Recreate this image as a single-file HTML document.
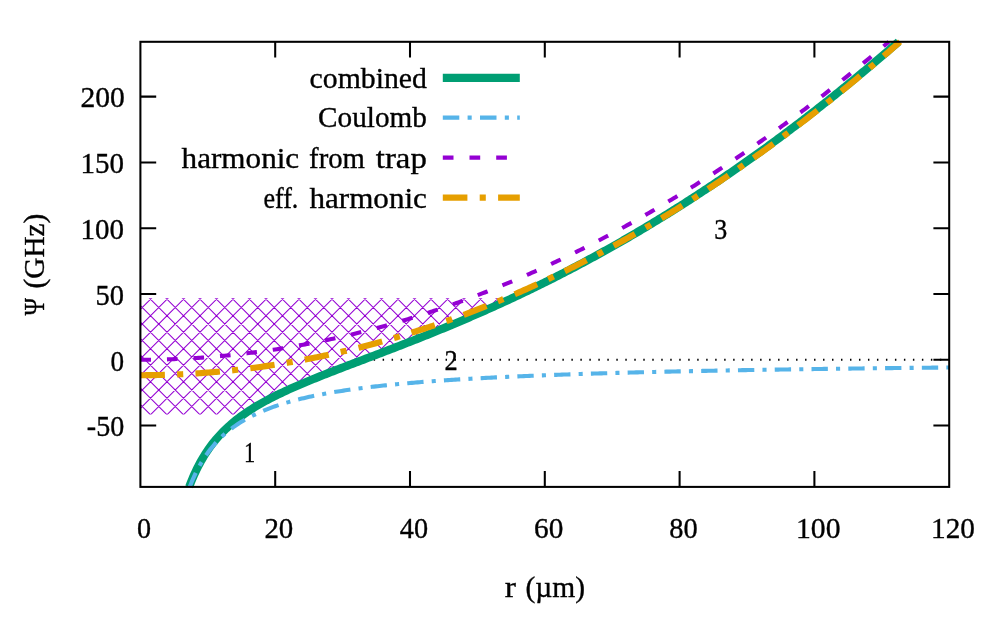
<!DOCTYPE html><html><head><meta charset="utf-8"><title>plot</title><style>html,body{margin:0;padding:0;background:#fff}svg{display:block}text{font-family:"Liberation Serif",serif;fill:#000}</style></head><body>
<svg width="997" height="617" viewBox="0 0 997 617">
<rect width="997" height="617" fill="#fff"/>
<defs><clipPath id="plot"><rect x="140.40" y="41.80" width="810.80" height="447.10" transform="translate(-1,-1)"/></clipPath><clipPath id="hc"><polygon points="140.40,298.31 511.85,298.31 511.85,298.31 509.16,299.56 506.48,300.81 503.80,302.04 501.11,303.27 498.43,304.50 495.75,305.72 493.07,306.93 490.38,308.14 487.70,309.34 485.02,310.53 482.33,311.72 479.65,312.90 476.97,314.08 474.29,315.25 471.60,316.41 468.92,317.57 466.24,318.73 463.55,319.87 460.87,321.02 458.19,322.15 455.51,323.28 452.82,324.41 450.14,325.53 447.46,326.65 444.77,327.76 442.09,328.87 439.41,329.97 436.73,331.06 434.04,332.16 431.36,333.24 428.68,334.32 425.99,335.40 423.31,336.48 420.63,337.55 417.95,338.61 415.26,339.67 412.58,340.73 409.90,341.79 407.21,342.84 404.53,343.88 401.85,344.93 399.17,345.97 396.48,347.01 393.80,348.04 391.12,349.07 388.43,350.10 385.75,351.13 383.07,352.16 380.39,353.18 377.70,354.20 375.02,355.22 372.34,356.24 369.65,357.26 366.97,358.28 364.29,359.30 361.61,360.32 358.92,361.33 356.24,362.35 353.56,363.37 350.87,364.39 348.19,365.41 345.51,366.43 342.83,367.46 340.14,368.49 337.46,369.52 334.78,370.56 332.09,371.59 329.41,372.64 326.73,373.69 324.05,374.74 321.36,375.80 318.68,376.87 316.00,377.95 313.32,379.03 310.63,380.13 307.95,381.23 305.27,382.35 302.58,383.47 299.90,384.61 297.22,385.77 294.54,386.94 291.85,388.12 289.17,389.33 286.49,390.55 283.80,391.79 281.12,393.06 278.44,394.35 275.76,395.67 273.07,397.01 270.39,398.39 267.71,399.79 265.02,401.24 262.34,402.72 259.66,404.24 256.98,405.81 254.29,407.43 251.61,409.10 248.93,410.83 246.24,412.62 243.56,414.48 140.40,414.48"/></clipPath></defs>
<path d="M140.40,96.63 h15.80 M949.20,96.63 h-15.80 M140.40,162.41 h15.80 M949.20,162.41 h-15.80 M140.40,228.19 h15.80 M949.20,228.19 h-15.80 M140.40,293.97 h15.80 M949.20,293.97 h-15.80 M140.40,359.75 h15.80 M949.20,359.75 h-15.80 M140.40,425.53 h15.80 M949.20,425.53 h-15.80 M275.20,486.90 v-15.80 M275.20,41.80 v15.80 M410.00,486.90 v-15.80 M410.00,41.80 v15.80 M544.80,486.90 v-15.80 M544.80,41.80 v15.80 M679.60,486.90 v-15.80 M679.60,41.80 v15.80 M814.40,486.90 v-15.80 M814.40,41.80 v15.80" stroke="#000" stroke-width="2.05" fill="none"/>
<polygon points="140.40,298.31 511.85,298.31 511.85,298.31 509.16,299.56 506.48,300.81 503.80,302.04 501.11,303.27 498.43,304.50 495.75,305.72 493.07,306.93 490.38,308.14 487.70,309.34 485.02,310.53 482.33,311.72 479.65,312.90 476.97,314.08 474.29,315.25 471.60,316.41 468.92,317.57 466.24,318.73 463.55,319.87 460.87,321.02 458.19,322.15 455.51,323.28 452.82,324.41 450.14,325.53 447.46,326.65 444.77,327.76 442.09,328.87 439.41,329.97 436.73,331.06 434.04,332.16 431.36,333.24 428.68,334.32 425.99,335.40 423.31,336.48 420.63,337.55 417.95,338.61 415.26,339.67 412.58,340.73 409.90,341.79 407.21,342.84 404.53,343.88 401.85,344.93 399.17,345.97 396.48,347.01 393.80,348.04 391.12,349.07 388.43,350.10 385.75,351.13 383.07,352.16 380.39,353.18 377.70,354.20 375.02,355.22 372.34,356.24 369.65,357.26 366.97,358.28 364.29,359.30 361.61,360.32 358.92,361.33 356.24,362.35 353.56,363.37 350.87,364.39 348.19,365.41 345.51,366.43 342.83,367.46 340.14,368.49 337.46,369.52 334.78,370.56 332.09,371.59 329.41,372.64 326.73,373.69 324.05,374.74 321.36,375.80 318.68,376.87 316.00,377.95 313.32,379.03 310.63,380.13 307.95,381.23 305.27,382.35 302.58,383.47 299.90,384.61 297.22,385.77 294.54,386.94 291.85,388.12 289.17,389.33 286.49,390.55 283.80,391.79 281.12,393.06 278.44,394.35 275.76,395.67 273.07,397.01 270.39,398.39 267.71,399.79 265.02,401.24 262.34,402.72 259.66,404.24 256.98,405.81 254.29,407.43 251.61,409.10 248.93,410.83 246.24,412.62 243.56,414.48 140.40,414.48" fill="#fff"/>
<g clip-path="url(#hc)"><path d="M-990.25,0 L-373.25,617 M-985.75,0 L-1602.75,617 M-973.75,0 L-356.75,617 M-969.25,0 L-1586.25,617 M-957.25,0 L-340.25,617 M-952.75,0 L-1569.75,617 M-940.75,0 L-323.75,617 M-936.25,0 L-1553.25,617 M-924.25,0 L-307.25,617 M-919.75,0 L-1536.75,617 M-907.75,0 L-290.75,617 M-903.25,0 L-1520.25,617 M-891.25,0 L-274.25,617 M-886.75,0 L-1503.75,617 M-874.75,0 L-257.75,617 M-870.25,0 L-1487.25,617 M-858.25,0 L-241.25,617 M-853.75,0 L-1470.75,617 M-841.75,0 L-224.75,617 M-837.25,0 L-1454.25,617 M-825.25,0 L-208.25,617 M-820.75,0 L-1437.75,617 M-808.75,0 L-191.75,617 M-804.25,0 L-1421.25,617 M-792.25,0 L-175.25,617 M-787.75,0 L-1404.75,617 M-775.75,0 L-158.75,617 M-771.25,0 L-1388.25,617 M-759.25,0 L-142.25,617 M-754.75,0 L-1371.75,617 M-742.75,0 L-125.75,617 M-738.25,0 L-1355.25,617 M-726.25,0 L-109.25,617 M-721.75,0 L-1338.75,617 M-709.75,0 L-92.75,617 M-705.25,0 L-1322.25,617 M-693.25,0 L-76.25,617 M-688.75,0 L-1305.75,617 M-676.75,0 L-59.75,617 M-672.25,0 L-1289.25,617 M-660.25,0 L-43.25,617 M-655.75,0 L-1272.75,617 M-643.75,0 L-26.75,617 M-639.25,0 L-1256.25,617 M-627.25,0 L-10.25,617 M-622.75,0 L-1239.75,617 M-610.75,0 L6.25,617 M-606.25,0 L-1223.25,617 M-594.25,0 L22.75,617 M-589.75,0 L-1206.75,617 M-577.75,0 L39.25,617 M-573.25,0 L-1190.25,617 M-561.25,0 L55.75,617 M-556.75,0 L-1173.75,617 M-544.75,0 L72.25,617 M-540.25,0 L-1157.25,617 M-528.25,0 L88.75,617 M-523.75,0 L-1140.75,617 M-511.75,0 L105.25,617 M-507.25,0 L-1124.25,617 M-495.25,0 L121.75,617 M-490.75,0 L-1107.75,617 M-478.75,0 L138.25,617 M-474.25,0 L-1091.25,617 M-462.25,0 L154.75,617 M-457.75,0 L-1074.75,617 M-445.75,0 L171.25,617 M-441.25,0 L-1058.25,617 M-429.25,0 L187.75,617 M-424.75,0 L-1041.75,617 M-412.75,0 L204.25,617 M-408.25,0 L-1025.25,617 M-396.25,0 L220.75,617 M-391.75,0 L-1008.75,617 M-379.75,0 L237.25,617 M-375.25,0 L-992.25,617 M-363.25,0 L253.75,617 M-358.75,0 L-975.75,617 M-346.75,0 L270.25,617 M-342.25,0 L-959.25,617 M-330.25,0 L286.75,617 M-325.75,0 L-942.75,617 M-313.75,0 L303.25,617 M-309.25,0 L-926.25,617 M-297.25,0 L319.75,617 M-292.75,0 L-909.75,617 M-280.75,0 L336.25,617 M-276.25,0 L-893.25,617 M-264.25,0 L352.75,617 M-259.75,0 L-876.75,617 M-247.75,0 L369.25,617 M-243.25,0 L-860.25,617 M-231.25,0 L385.75,617 M-226.75,0 L-843.75,617 M-214.75,0 L402.25,617 M-210.25,0 L-827.25,617 M-198.25,0 L418.75,617 M-193.75,0 L-810.75,617 M-181.75,0 L435.25,617 M-177.25,0 L-794.25,617 M-165.25,0 L451.75,617 M-160.75,0 L-777.75,617 M-148.75,0 L468.25,617 M-144.25,0 L-761.25,617 M-132.25,0 L484.75,617 M-127.75,0 L-744.75,617 M-115.75,0 L501.25,617 M-111.25,0 L-728.25,617 M-99.25,0 L517.75,617 M-94.75,0 L-711.75,617 M-82.75,0 L534.25,617 M-78.25,0 L-695.25,617 M-66.25,0 L550.75,617 M-61.75,0 L-678.75,617 M-49.75,0 L567.25,617 M-45.25,0 L-662.25,617 M-33.25,0 L583.75,617 M-28.75,0 L-645.75,617 M-16.75,0 L600.25,617 M-12.25,0 L-629.25,617 M-0.25,0 L616.75,617 M4.25,0 L-612.75,617 M16.25,0 L633.25,617 M20.75,0 L-596.25,617 M32.75,0 L649.75,617 M37.25,0 L-579.75,617 M49.25,0 L666.25,617 M53.75,0 L-563.25,617 M65.75,0 L682.75,617 M70.25,0 L-546.75,617 M82.25,0 L699.25,617 M86.75,0 L-530.25,617 M98.75,0 L715.75,617 M103.25,0 L-513.75,617 M115.25,0 L732.25,617 M119.75,0 L-497.25,617 M131.75,0 L748.75,617 M136.25,0 L-480.75,617 M148.25,0 L765.25,617 M152.75,0 L-464.25,617 M164.75,0 L781.75,617 M169.25,0 L-447.75,617 M181.25,0 L798.25,617 M185.75,0 L-431.25,617 M197.75,0 L814.75,617 M202.25,0 L-414.75,617 M214.25,0 L831.25,617 M218.75,0 L-398.25,617 M230.75,0 L847.75,617 M235.25,0 L-381.75,617 M247.25,0 L864.25,617 M251.75,0 L-365.25,617 M263.75,0 L880.75,617 M268.25,0 L-348.75,617 M280.25,0 L897.25,617 M284.75,0 L-332.25,617 M296.75,0 L913.75,617 M301.25,0 L-315.75,617 M313.25,0 L930.25,617 M317.75,0 L-299.25,617 M329.75,0 L946.75,617 M334.25,0 L-282.75,617 M346.25,0 L963.25,617 M350.75,0 L-266.25,617 M362.75,0 L979.75,617 M367.25,0 L-249.75,617 M379.25,0 L996.25,617 M383.75,0 L-233.25,617 M395.75,0 L1012.75,617 M400.25,0 L-216.75,617 M412.25,0 L1029.25,617 M416.75,0 L-200.25,617 M428.75,0 L1045.75,617 M433.25,0 L-183.75,617 M445.25,0 L1062.25,617 M449.75,0 L-167.25,617 M461.75,0 L1078.75,617 M466.25,0 L-150.75,617 M478.25,0 L1095.25,617 M482.75,0 L-134.25,617 M494.75,0 L1111.75,617 M499.25,0 L-117.75,617 M511.25,0 L1128.25,617 M515.75,0 L-101.25,617 M527.75,0 L1144.75,617 M532.25,0 L-84.75,617 M544.25,0 L1161.25,617 M548.75,0 L-68.25,617 M560.75,0 L1177.75,617 M565.25,0 L-51.75,617 M577.25,0 L1194.25,617 M581.75,0 L-35.25,617 M593.75,0 L1210.75,617 M598.25,0 L-18.75,617 M610.25,0 L1227.25,617 M614.75,0 L-2.25,617 M626.75,0 L1243.75,617 M631.25,0 L14.25,617 M643.25,0 L1260.25,617 M647.75,0 L30.75,617 M659.75,0 L1276.75,617 M664.25,0 L47.25,617 M676.25,0 L1293.25,617 M680.75,0 L63.75,617 M692.75,0 L1309.75,617 M697.25,0 L80.25,617 M709.25,0 L1326.25,617 M713.75,0 L96.75,617 M725.75,0 L1342.75,617 M730.25,0 L113.25,617 M742.25,0 L1359.25,617 M746.75,0 L129.75,617 M758.75,0 L1375.75,617 M763.25,0 L146.25,617 M775.25,0 L1392.25,617 M779.75,0 L162.75,617 M791.75,0 L1408.75,617 M796.25,0 L179.25,617 M808.25,0 L1425.25,617 M812.75,0 L195.75,617 M824.75,0 L1441.75,617 M829.25,0 L212.25,617 M841.25,0 L1458.25,617 M845.75,0 L228.75,617 M857.75,0 L1474.75,617 M862.25,0 L245.25,617 M874.25,0 L1491.25,617 M878.75,0 L261.75,617 M890.75,0 L1507.75,617 M895.25,0 L278.25,617 M907.25,0 L1524.25,617 M911.75,0 L294.75,617 M923.75,0 L1540.75,617 M928.25,0 L311.25,617 M940.25,0 L1557.25,617 M944.75,0 L327.75,617 M956.75,0 L1573.75,617 M961.25,0 L344.25,617 M973.25,0 L1590.25,617 M977.75,0 L360.75,617 M989.75,0 L1606.75,617 M994.25,0 L377.25,617 M1006.25,0 L1623.25,617 M1010.75,0 L393.75,617 M1022.75,0 L1639.75,617 M1027.25,0 L410.25,617 M1039.25,0 L1656.25,617 M1043.75,0 L426.75,617 M1055.75,0 L1672.75,617 M1060.25,0 L443.25,617 M1072.25,0 L1689.25,617 M1076.75,0 L459.75,617 M1088.75,0 L1705.75,617 M1093.25,0 L476.25,617 M1105.25,0 L1722.25,617 M1109.75,0 L492.75,617 M1121.75,0 L1738.75,617 M1126.25,0 L509.25,617 M1138.25,0 L1755.25,617 M1142.75,0 L525.75,617 M1154.75,0 L1771.75,617 M1159.25,0 L542.25,617 M1171.25,0 L1788.25,617 M1175.75,0 L558.75,617 M1187.75,0 L1804.75,617 M1192.25,0 L575.25,617 M1204.25,0 L1821.25,617 M1208.75,0 L591.75,617 M1220.75,0 L1837.75,617 M1225.25,0 L608.25,617 M1237.25,0 L1854.25,617 M1241.75,0 L624.75,617 M1253.75,0 L1870.75,617 M1258.25,0 L641.25,617 M1270.25,0 L1887.25,617 M1274.75,0 L657.75,617 M1286.75,0 L1903.75,617 M1291.25,0 L674.25,617 M1303.25,0 L1920.25,617 M1307.75,0 L690.75,617" stroke="#9400D3" stroke-width="1.05" fill="none"/></g>
<path d="M355.68,359.80 L949.20,359.80" stroke="#000" stroke-width="2.05" stroke-dasharray="1.45 7.5375" fill="none"/>
<g fill="none" stroke-linecap="butt" stroke-linejoin="round">
<path d="M189.19,486.90 L190.96,482.29 L192.73,477.99 L194.51,473.95 L196.28,470.17 L198.05,466.60 L199.83,463.24 L201.60,460.06 L203.37,457.05 L205.15,454.20 L206.92,451.48 L208.69,448.90 L210.47,446.44 L212.24,444.09 L214.01,441.84 L215.79,439.68 L217.56,437.62 L219.33,435.64 L221.11,433.73 L222.88,431.90 L224.65,430.13 L226.42,428.42 L228.20,426.78 L229.97,425.19 L231.74,423.64 L233.52,422.15 L235.29,420.70 L237.06,419.30 L238.84,417.94 L240.61,416.61 L242.38,415.32 L244.16,414.06 L245.93,412.83 L247.70,411.64 L249.48,410.47 L251.25,409.33 L253.02,408.21 L254.80,407.12 L256.57,406.05 L258.34,405.01 L260.12,403.98 L261.89,402.97 L263.66,401.98 L265.44,401.01 L267.21,400.06 L268.98,399.12 L270.76,398.20 L272.53,397.29 L274.30,396.39 L276.08,395.51 L277.85,394.64 L279.62,393.78 L281.40,392.93 L283.17,392.09 L284.94,391.26 L286.72,390.44 L288.49,389.63 L290.26,388.83 L292.04,388.04 L293.81,387.26 L295.58,386.48 L297.36,385.71 L299.13,384.94 L300.90,384.19 L302.68,383.43 L304.45,382.69 L306.22,381.95 L308.00,381.21 L309.77,380.48 L311.54,379.76 L313.32,379.03 L315.09,378.32 L316.86,377.60 L318.64,376.89 L320.41,376.18 L322.18,375.48 L323.96,374.78 L325.73,374.08 L327.50,373.39 L329.28,372.69 L331.05,372.00 L332.82,371.31 L334.59,370.63 L336.37,369.94 L338.14,369.26 L339.91,368.58 L341.69,367.90 L343.46,367.22 L345.23,366.54 L347.01,365.86 L348.78,365.19 L350.55,364.51 L352.33,363.84 L354.10,363.16 L355.87,362.49 L357.65,361.82 L359.42,361.14 L361.19,360.47 L362.97,359.80 L364.74,359.13 L366.51,358.45 L368.29,357.78 L370.06,357.11 L371.83,356.44 L373.61,355.76 L375.38,355.09 L377.15,354.41 L378.93,353.74 L380.70,353.06 L382.47,352.38 L384.25,351.71 L386.02,351.03 L387.79,350.35 L389.57,349.67 L391.34,348.99 L393.11,348.31 L394.89,347.62 L396.66,346.94 L398.43,346.25 L400.21,345.57 L401.98,344.88 L403.75,344.19 L405.53,343.50 L407.30,342.80 L409.07,342.11 L410.85,341.41 L412.62,340.72 L414.39,340.02 L416.17,339.32 L417.94,338.62 L419.71,337.91 L421.49,337.21 L423.26,336.50 L425.03,335.79 L426.81,335.08 L428.58,334.36 L430.35,333.65 L432.13,332.93 L433.90,332.21 L435.67,331.49 L437.45,330.77 L439.22,330.05 L440.99,329.32 L442.76,328.59 L444.54,327.86 L446.31,327.12 L448.08,326.39 L449.86,325.65 L451.63,324.91 L453.40,324.17 L455.18,323.42 L456.95,322.68 L458.72,321.93 L460.50,321.17 L462.27,320.42 L464.04,319.66 L465.82,318.91 L467.59,318.14 L469.36,317.38 L471.14,316.61 L472.91,315.85 L474.68,315.07 L476.46,314.30 L478.23,313.52 L480.00,312.75 L481.78,311.96 L483.55,311.18 L485.32,310.39 L487.10,309.60 L488.87,308.81 L490.64,308.02 L492.42,307.22 L494.19,306.42 L495.96,305.62 L497.74,304.81 L499.51,304.01 L501.28,303.20 L503.06,302.38 L504.83,301.57 L506.60,300.75 L508.38,299.93 L510.15,299.10 L511.92,298.28 L513.70,297.45 L515.47,296.61 L517.24,295.78 L519.02,294.94 L520.79,294.10 L522.56,293.25 L524.34,292.41 L526.11,291.56 L527.88,290.70 L529.66,289.85 L531.43,288.99 L533.20,288.13 L534.98,287.27 L536.75,286.40 L538.52,285.53 L540.30,284.65 L542.07,283.78 L543.84,282.90 L545.61,282.02 L547.39,281.13 L549.16,280.24 L550.93,279.35 L552.71,278.46 L554.48,277.56 L556.25,276.66 L558.03,275.76 L559.80,274.85 L561.57,273.95 L563.35,273.03 L565.12,272.12 L566.89,271.20 L568.67,270.28 L570.44,269.35 L572.21,268.43 L573.99,267.50 L575.76,266.56 L577.53,265.63 L579.31,264.69 L581.08,263.74 L582.85,262.80 L584.63,261.85 L586.40,260.90 L588.17,259.94 L589.95,258.98 L591.72,258.02 L593.49,257.06 L595.27,256.09 L597.04,255.12 L598.81,254.14 L600.59,253.17 L602.36,252.19 L604.13,251.20 L605.91,250.22 L607.68,249.23 L609.45,248.23 L611.23,247.24 L613.00,246.24 L614.77,245.23 L616.55,244.23 L618.32,243.22 L620.09,242.21 L621.87,241.19 L623.64,240.17 L625.41,239.15 L627.19,238.12 L628.96,237.10 L630.73,236.06 L632.51,235.03 L634.28,233.99 L636.05,232.95 L637.83,231.90 L639.60,230.86 L641.37,229.81 L643.15,228.75 L644.92,227.69 L646.69,226.63 L648.47,225.57 L650.24,224.50 L652.01,223.43 L653.78,222.36 L655.56,221.28 L657.33,220.20 L659.10,219.11 L660.88,218.03 L662.65,216.94 L664.42,215.84 L666.20,214.75 L667.97,213.65 L669.74,212.54 L671.52,211.44 L673.29,210.32 L675.06,209.21 L676.84,208.09 L678.61,206.97 L680.38,205.85 L682.16,204.72 L683.93,203.59 L685.70,202.46 L687.48,201.32 L689.25,200.18 L691.02,199.04 L692.80,197.89 L694.57,196.74 L696.34,195.59 L698.12,194.43 L699.89,193.27 L701.66,192.11 L703.44,190.94 L705.21,189.77 L706.98,188.60 L708.76,187.42 L710.53,186.24 L712.30,185.06 L714.08,183.87 L715.85,182.68 L717.62,181.49 L719.40,180.29 L721.17,179.09 L722.94,177.89 L724.72,176.68 L726.49,175.47 L728.26,174.25 L730.04,173.04 L731.81,171.82 L733.58,170.59 L735.36,169.36 L737.13,168.13 L738.90,166.90 L740.68,165.66 L742.45,164.42 L744.22,163.18 L746.00,161.93 L747.77,160.68 L749.54,159.42 L751.32,158.16 L753.09,156.90 L754.86,155.64 L756.63,154.37 L758.41,153.10 L760.18,151.82 L761.95,150.55 L763.73,149.26 L765.50,147.98 L767.27,146.69 L769.05,145.40 L770.82,144.10 L772.59,142.80 L774.37,141.50 L776.14,140.20 L777.91,138.89 L779.69,137.58 L781.46,136.26 L783.23,134.94 L785.01,133.62 L786.78,132.29 L788.55,130.96 L790.33,129.63 L792.10,128.29 L793.87,126.95 L795.65,125.61 L797.42,124.26 L799.19,122.91 L800.97,121.56 L802.74,120.20 L804.51,118.84 L806.29,117.48 L808.06,116.11 L809.83,114.74 L811.61,113.37 L813.38,111.99 L815.15,110.61 L816.93,109.22 L818.70,107.83 L820.47,106.44 L822.25,105.05 L824.02,103.65 L825.79,102.25 L827.57,100.84 L829.34,99.43 L831.11,98.02 L832.89,96.61 L834.66,95.19 L836.43,93.77 L838.21,92.34 L839.98,90.91 L841.75,89.48 L843.53,88.04 L845.30,86.60 L847.07,85.16 L848.85,83.71 L850.62,82.26 L852.39,80.81 L854.17,79.35 L855.94,77.89 L857.71,76.43 L859.49,74.96 L861.26,73.49 L863.03,72.01 L864.80,70.54 L866.58,69.06 L868.35,67.57 L870.12,66.08 L871.90,64.59 L873.67,63.10 L875.44,61.60 L877.22,60.10 L878.99,58.59 L880.76,57.08 L882.54,55.57 L884.31,54.05 L886.08,52.53 L887.86,51.01 L889.63,49.48 L891.40,47.95 L893.18,46.42 L894.95,44.88 L896.72,43.34 L898.50,41.80" stroke="#009E73" stroke-width="8.20"/>
<path d="M189.70,486.90 L191.60,482.18 L193.50,477.81 L195.40,473.73 L197.30,469.93 L199.20,466.37 L201.10,463.03 L203.00,459.90 L204.89,456.95 L206.79,454.17 L208.69,451.55 L210.59,449.06 L212.49,446.71 L214.39,444.48 L216.29,442.36 L218.19,440.34 L220.08,438.42 L221.98,436.59 L223.88,434.85 L225.78,433.18 L227.68,431.58 L229.58,430.05 L231.48,428.58 L233.38,427.18 L235.27,425.83 L237.17,424.53 L239.07,423.28 L240.97,422.09 L242.87,420.93 L244.77,419.82 L246.67,418.74 L248.57,417.71 L250.46,416.71 L252.36,415.74 L254.26,414.81 L256.16,413.91 L258.06,413.03 L259.96,412.19 L261.86,411.37 L263.76,410.57 L265.65,409.80 L267.55,409.05 L269.45,408.33 L271.35,407.62 L273.25,406.94 L275.15,406.27 L277.05,405.63 L278.95,405.00 L280.84,404.39 L282.74,403.79 L284.64,403.21 L286.54,402.65 L288.44,402.10 L290.34,401.56 L292.24,401.04 L294.14,400.53 L296.03,400.03 L297.93,399.55 L299.83,399.07 L301.73,398.61 L303.63,398.16 L305.53,397.72 L307.43,397.28 L309.33,396.86 L311.22,396.45 L313.12,396.05 L315.02,395.65 L316.92,395.26 L318.82,394.89 L320.72,394.52 L322.62,394.15 L324.51,393.80 L326.41,393.45 L328.31,393.11 L330.21,392.78 L332.11,392.45 L334.01,392.13 L335.91,391.82 L337.81,391.51 L339.70,391.20 L341.60,390.91 L343.50,390.62 L345.40,390.33 L347.30,390.05 L349.20,389.77 L351.10,389.50 L353.00,389.24 L354.89,388.98 L356.79,388.72 L358.69,388.47 L360.59,388.22 L362.49,387.98 L364.39,387.74 L366.29,387.50 L368.19,387.27 L370.08,387.04 L371.98,386.82 L373.88,386.60 L375.78,386.38 L377.68,386.17 L379.58,385.96 L381.48,385.75 L383.38,385.55 L385.27,385.35 L387.17,385.15 L389.07,384.96 L390.97,384.77 L392.87,384.58 L394.77,384.40 L396.67,384.21 L398.57,384.03 L400.46,383.86 L402.36,383.68 L404.26,383.51 L406.16,383.34 L408.06,383.17 L409.96,383.01 L411.86,382.84 L413.76,382.68 L415.65,382.53 L417.55,382.37 L419.45,382.22 L421.35,382.06 L423.25,381.91 L425.15,381.77 L427.05,381.62 L428.95,381.48 L430.84,381.33 L432.74,381.19 L434.64,381.06 L436.54,380.92 L438.44,380.78 L440.34,380.65 L442.24,380.52 L444.14,380.39 L446.03,380.26 L447.93,380.14 L449.83,380.01 L451.73,379.89 L453.63,379.76 L455.53,379.64 L457.43,379.52 L459.33,379.41 L461.22,379.29 L463.12,379.18 L465.02,379.06 L466.92,378.95 L468.82,378.84 L470.72,378.73 L472.62,378.62 L474.52,378.51 L476.41,378.41 L478.31,378.30 L480.21,378.20 L482.11,378.10 L484.01,377.99 L485.91,377.89 L487.81,377.80 L489.71,377.70 L491.60,377.60 L493.50,377.50 L495.40,377.41 L497.30,377.32 L499.20,377.22 L501.10,377.13 L503.00,377.04 L504.90,376.95 L506.79,376.86 L508.69,376.77 L510.59,376.68 L512.49,376.60 L514.39,376.51 L516.29,376.43 L518.19,376.34 L520.09,376.26 L521.98,376.18 L523.88,376.10 L525.78,376.02 L527.68,375.94 L529.58,375.86 L531.48,375.78 L533.38,375.70 L535.27,375.63 L537.17,375.55 L539.07,375.47 L540.97,375.40 L542.87,375.33 L544.77,375.25 L546.67,375.18 L548.57,375.11 L550.46,375.04 L552.36,374.97 L554.26,374.90 L556.16,374.83 L558.06,374.76 L559.96,374.69 L561.86,374.62 L563.76,374.56 L565.65,374.49 L567.55,374.43 L569.45,374.36 L571.35,374.30 L573.25,374.23 L575.15,374.17 L577.05,374.11 L578.95,374.05 L580.84,373.98 L582.74,373.92 L584.64,373.86 L586.54,373.80 L588.44,373.74 L590.34,373.68 L592.24,373.62 L594.14,373.57 L596.03,373.51 L597.93,373.45 L599.83,373.40 L601.73,373.34 L603.63,373.28 L605.53,373.23 L607.43,373.17 L609.33,373.12 L611.22,373.07 L613.12,373.01 L615.02,372.96 L616.92,372.91 L618.82,372.85 L620.72,372.80 L622.62,372.75 L624.52,372.70 L626.41,372.65 L628.31,372.60 L630.21,372.55 L632.11,372.50 L634.01,372.45 L635.91,372.40 L637.81,372.35 L639.71,372.31 L641.60,372.26 L643.50,372.21 L645.40,372.16 L647.30,372.12 L649.20,372.07 L651.10,372.03 L653.00,371.98 L654.90,371.93 L656.79,371.89 L658.69,371.85 L660.59,371.80 L662.49,371.76 L664.39,371.71 L666.29,371.67 L668.19,371.63 L670.09,371.59 L671.98,371.54 L673.88,371.50 L675.78,371.46 L677.68,371.42 L679.58,371.38 L681.48,371.34 L683.38,371.30 L685.28,371.26 L687.17,371.22 L689.07,371.18 L690.97,371.14 L692.87,371.10 L694.77,371.06 L696.67,371.02 L698.57,370.98 L700.47,370.94 L702.36,370.91 L704.26,370.87 L706.16,370.83 L708.06,370.79 L709.96,370.76 L711.86,370.72 L713.76,370.68 L715.66,370.65 L717.55,370.61 L719.45,370.58 L721.35,370.54 L723.25,370.51 L725.15,370.47 L727.05,370.44 L728.95,370.40 L730.85,370.37 L732.74,370.33 L734.64,370.30 L736.54,370.27 L738.44,370.23 L740.34,370.20 L742.24,370.17 L744.14,370.13 L746.03,370.10 L747.93,370.07 L749.83,370.04 L751.73,370.00 L753.63,369.97 L755.53,369.94 L757.43,369.91 L759.33,369.88 L761.22,369.85 L763.12,369.82 L765.02,369.79 L766.92,369.76 L768.82,369.73 L770.72,369.70 L772.62,369.67 L774.52,369.64 L776.41,369.61 L778.31,369.58 L780.21,369.55 L782.11,369.52 L784.01,369.49 L785.91,369.46 L787.81,369.43 L789.71,369.41 L791.60,369.38 L793.50,369.35 L795.40,369.32 L797.30,369.29 L799.20,369.27 L801.10,369.24 L803.00,369.21 L804.90,369.18 L806.79,369.16 L808.69,369.13 L810.59,369.10 L812.49,369.08 L814.39,369.05 L816.29,369.03 L818.19,369.00 L820.09,368.97 L821.98,368.95 L823.88,368.92 L825.78,368.90 L827.68,368.87 L829.58,368.85 L831.48,368.82 L833.38,368.80 L835.28,368.77 L837.17,368.75 L839.07,368.72 L840.97,368.70 L842.87,368.67 L844.77,368.65 L846.67,368.63 L848.57,368.60 L850.47,368.58 L852.36,368.56 L854.26,368.53 L856.16,368.51 L858.06,368.49 L859.96,368.46 L861.86,368.44 L863.76,368.42 L865.66,368.39 L867.55,368.37 L869.45,368.35 L871.35,368.33 L873.25,368.30 L875.15,368.28 L877.05,368.26 L878.95,368.24 L880.85,368.22 L882.74,368.19 L884.64,368.17 L886.54,368.15 L888.44,368.13 L890.34,368.11 L892.24,368.09 L894.14,368.07 L896.04,368.05 L897.93,368.03 L899.83,368.00 L901.73,367.98 L903.63,367.96 L905.53,367.94 L907.43,367.92 L909.33,367.90 L911.23,367.88 L913.12,367.86 L915.02,367.84 L916.92,367.82 L918.82,367.80 L920.72,367.78 L922.62,367.76 L924.52,367.75 L926.42,367.73 L928.31,367.71 L930.21,367.69 L932.11,367.67 L934.01,367.65 L935.91,367.63 L937.81,367.61 L939.71,367.59 L941.61,367.57 L943.50,367.56 L945.40,367.54 L947.30,367.52 L949.20,367.50" stroke="#56B4E9" stroke-width="4.10" stroke-dasharray="16.35 8.17 4.09 8.17" stroke-dashoffset="1.1"/>
<path d="M140.40,359.75 L142.27,359.75 L144.14,359.74 L146.01,359.73 L147.88,359.72 L149.76,359.70 L151.63,359.68 L153.50,359.65 L155.37,359.62 L157.24,359.59 L159.11,359.55 L160.98,359.51 L162.85,359.46 L164.72,359.41 L166.59,359.36 L168.47,359.30 L170.34,359.24 L172.21,359.18 L174.08,359.11 L175.95,359.03 L177.82,358.96 L179.69,358.87 L181.56,358.79 L183.43,358.70 L185.31,358.61 L187.18,358.51 L189.05,358.41 L190.92,358.30 L192.79,358.19 L194.66,358.08 L196.53,357.96 L198.40,357.84 L200.27,357.72 L202.15,357.59 L204.02,357.45 L205.89,357.32 L207.76,357.17 L209.63,357.03 L211.50,356.88 L213.37,356.73 L215.24,356.57 L217.11,356.41 L218.98,356.24 L220.86,356.08 L222.73,355.90 L224.60,355.73 L226.47,355.55 L228.34,355.36 L230.21,355.17 L232.08,354.98 L233.95,354.78 L235.82,354.58 L237.70,354.38 L239.57,354.17 L241.44,353.96 L243.31,353.74 L245.18,353.52 L247.05,353.29 L248.92,353.07 L250.79,352.83 L252.66,352.60 L254.54,352.36 L256.41,352.11 L258.28,351.86 L260.15,351.61 L262.02,351.35 L263.89,351.09 L265.76,350.83 L267.63,350.56 L269.50,350.29 L271.37,350.01 L273.25,349.73 L275.12,349.45 L276.99,349.16 L278.86,348.87 L280.73,348.57 L282.60,348.27 L284.47,347.97 L286.34,347.66 L288.21,347.35 L290.09,347.03 L291.96,346.71 L293.83,346.39 L295.70,346.06 L297.57,345.73 L299.44,345.39 L301.31,345.05 L303.18,344.71 L305.05,344.36 L306.92,344.01 L308.80,343.65 L310.67,343.29 L312.54,342.93 L314.41,342.56 L316.28,342.19 L318.15,341.82 L320.02,341.44 L321.89,341.05 L323.76,340.67 L325.64,340.27 L327.51,339.88 L329.38,339.48 L331.25,339.08 L333.12,338.67 L334.99,338.26 L336.86,337.84 L338.73,337.42 L340.60,337.00 L342.48,336.57 L344.35,336.14 L346.22,335.71 L348.09,335.27 L349.96,334.82 L351.83,334.38 L353.70,333.92 L355.57,333.47 L357.44,333.01 L359.31,332.55 L361.19,332.08 L363.06,331.61 L364.93,331.13 L366.80,330.66 L368.67,330.17 L370.54,329.69 L372.41,329.20 L374.28,328.70 L376.15,328.20 L378.03,327.70 L379.90,327.19 L381.77,326.68 L383.64,326.17 L385.51,325.65 L387.38,325.13 L389.25,324.60 L391.12,324.07 L392.99,323.53 L394.87,322.99 L396.74,322.45 L398.61,321.91 L400.48,321.36 L402.35,320.80 L404.22,320.24 L406.09,319.68 L407.96,319.11 L409.83,318.54 L411.70,317.97 L413.58,317.39 L415.45,316.81 L417.32,316.22 L419.19,315.63 L421.06,315.04 L422.93,314.44 L424.80,313.84 L426.67,313.23 L428.54,312.62 L430.42,312.01 L432.29,311.39 L434.16,310.77 L436.03,310.14 L437.90,309.51 L439.77,308.88 L441.64,308.24 L443.51,307.60 L445.38,306.95 L447.25,306.30 L449.13,305.65 L451.00,304.99 L452.87,304.33 L454.74,303.66 L456.61,302.99 L458.48,302.32 L460.35,301.64 L462.22,300.96 L464.09,300.28 L465.97,299.59 L467.84,298.89 L469.71,298.19 L471.58,297.49 L473.45,296.79 L475.32,296.08 L477.19,295.37 L479.06,294.65 L480.93,293.93 L482.81,293.20 L484.68,292.47 L486.55,291.74 L488.42,291.00 L490.29,290.26 L492.16,289.51 L494.03,288.77 L495.90,288.01 L497.77,287.26 L499.64,286.49 L501.52,285.73 L503.39,284.96 L505.26,284.19 L507.13,283.41 L509.00,282.63 L510.87,281.84 L512.74,281.06 L514.61,280.26 L516.48,279.47 L518.36,278.66 L520.23,277.86 L522.10,277.05 L523.97,276.24 L525.84,275.42 L527.71,274.60 L529.58,273.78 L531.45,272.95 L533.32,272.12 L535.20,271.28 L537.07,270.44 L538.94,269.59 L540.81,268.74 L542.68,267.89 L544.55,267.04 L546.42,266.18 L548.29,265.31 L550.16,264.44 L552.03,263.57 L553.91,262.69 L555.78,261.81 L557.65,260.93 L559.52,260.04 L561.39,259.15 L563.26,258.25 L565.13,257.35 L567.00,256.45 L568.87,255.54 L570.75,254.63 L572.62,253.71 L574.49,252.79 L576.36,251.87 L578.23,250.94 L580.10,250.01 L581.97,249.07 L583.84,248.13 L585.71,247.19 L587.59,246.24 L589.46,245.29 L591.33,244.33 L593.20,243.37 L595.07,242.41 L596.94,241.44 L598.81,240.47 L600.68,239.49 L602.55,238.51 L604.42,237.53 L606.30,236.54 L608.17,235.55 L610.04,234.56 L611.91,233.56 L613.78,232.55 L615.65,231.54 L617.52,230.53 L619.39,229.52 L621.26,228.50 L623.14,227.47 L625.01,226.45 L626.88,225.42 L628.75,224.38 L630.62,223.34 L632.49,222.30 L634.36,221.25 L636.23,220.20 L638.10,219.14 L639.97,218.09 L641.85,217.02 L643.72,215.96 L645.59,214.88 L647.46,213.81 L649.33,212.73 L651.20,211.65 L653.07,210.56 L654.94,209.47 L656.81,208.37 L658.69,207.28 L660.56,206.17 L662.43,205.07 L664.30,203.95 L666.17,202.84 L668.04,201.72 L669.91,200.60 L671.78,199.47 L673.65,198.34 L675.53,197.21 L677.40,196.07 L679.27,194.92 L681.14,193.78 L683.01,192.63 L684.88,191.47 L686.75,190.31 L688.62,189.15 L690.49,187.99 L692.36,186.82 L694.24,185.64 L696.11,184.46 L697.98,183.28 L699.85,182.09 L701.72,180.90 L703.59,179.71 L705.46,178.51 L707.33,177.31 L709.20,176.10 L711.08,174.89 L712.95,173.68 L714.82,172.46 L716.69,171.24 L718.56,170.01 L720.43,168.78 L722.30,167.55 L724.17,166.31 L726.04,165.07 L727.92,163.82 L729.79,162.57 L731.66,161.32 L733.53,160.06 L735.40,158.80 L737.27,157.53 L739.14,156.26 L741.01,154.99 L742.88,153.71 L744.75,152.43 L746.63,151.14 L748.50,149.85 L750.37,148.56 L752.24,147.26 L754.11,145.96 L755.98,144.65 L757.85,143.35 L759.72,142.03 L761.59,140.71 L763.47,139.39 L765.34,138.07 L767.21,136.74 L769.08,135.40 L770.95,134.07 L772.82,132.73 L774.69,131.38 L776.56,130.03 L778.43,128.68 L780.30,127.32 L782.18,125.96 L784.05,124.59 L785.92,123.23 L787.79,121.85 L789.66,120.47 L791.53,119.09 L793.40,117.71 L795.27,116.32 L797.14,114.93 L799.02,113.53 L800.89,112.13 L802.76,110.72 L804.63,109.31 L806.50,107.90 L808.37,106.48 L810.24,105.06 L812.11,103.64 L813.98,102.21 L815.86,100.78 L817.73,99.34 L819.60,97.90 L821.47,96.46 L823.34,95.01 L825.21,93.55 L827.08,92.10 L828.95,90.64 L830.82,89.17 L832.69,87.70 L834.57,86.23 L836.44,84.76 L838.31,83.27 L840.18,81.79 L842.05,80.30 L843.92,78.81 L845.79,77.31 L847.66,75.81 L849.53,74.31 L851.41,72.80 L853.28,71.29 L855.15,69.77 L857.02,68.25 L858.89,66.73 L860.76,65.20 L862.63,63.67 L864.50,62.13 L866.37,60.59 L868.25,59.05 L870.12,57.50 L871.99,55.95 L873.86,54.39 L875.73,52.83 L877.60,51.27 L879.47,49.70 L881.34,48.13 L883.21,46.55 L885.08,44.97 L886.96,43.39 L888.83,41.80" stroke="#9400D3" stroke-width="4.10" stroke-dasharray="10.6 15.97"/>
<path d="M140.40,375.21 L142.30,375.21 L144.20,375.20 L146.10,375.19 L148.00,375.17 L149.90,375.16 L151.79,375.13 L153.69,375.11 L155.59,375.07 L157.49,375.04 L159.39,375.00 L161.29,374.96 L163.19,374.91 L165.09,374.86 L166.99,374.80 L168.89,374.74 L170.79,374.67 L172.69,374.61 L174.58,374.53 L176.48,374.46 L178.38,374.37 L180.28,374.29 L182.18,374.20 L184.08,374.11 L185.98,374.01 L187.88,373.91 L189.78,373.80 L191.68,373.69 L193.58,373.57 L195.47,373.46 L197.37,373.33 L199.27,373.21 L201.17,373.07 L203.07,372.94 L204.97,372.80 L206.87,372.66 L208.77,372.51 L210.67,372.36 L212.57,372.20 L214.47,372.04 L216.37,371.87 L218.26,371.71 L220.16,371.53 L222.06,371.36 L223.96,371.17 L225.86,370.99 L227.76,370.80 L229.66,370.61 L231.56,370.41 L233.46,370.21 L235.36,370.00 L237.26,369.79 L239.15,369.57 L241.05,369.35 L242.95,369.13 L244.85,368.90 L246.75,368.67 L248.65,368.44 L250.55,368.20 L252.45,367.95 L254.35,367.71 L256.25,367.45 L258.15,367.20 L260.05,366.94 L261.94,366.67 L263.84,366.40 L265.74,366.13 L267.64,365.85 L269.54,365.57 L271.44,365.29 L273.34,365.00 L275.24,364.70 L277.14,364.41 L279.04,364.10 L280.94,363.80 L282.83,363.49 L284.73,363.17 L286.63,362.85 L288.53,362.53 L290.43,362.20 L292.33,361.87 L294.23,361.54 L296.13,361.20 L298.03,360.85 L299.93,360.50 L301.83,360.15 L303.73,359.80 L305.62,359.44 L307.52,359.07 L309.42,358.70 L311.32,358.33 L313.22,357.95 L315.12,357.57 L317.02,357.19 L318.92,356.80 L320.82,356.40 L322.72,356.00 L324.62,355.60 L326.51,355.20 L328.41,354.78 L330.31,354.37 L332.21,353.95 L334.11,353.53 L336.01,353.10 L337.91,352.67 L339.81,352.23 L341.71,351.79 L343.61,351.35 L345.51,350.90 L347.41,350.45 L349.30,349.99 L351.20,349.53 L353.10,349.07 L355.00,348.60 L356.90,348.13 L358.80,347.65 L360.70,347.17 L362.60,346.68 L364.50,346.19 L366.40,345.70 L368.30,345.20 L370.19,344.70 L372.09,344.19 L373.99,343.68 L375.89,343.17 L377.79,342.65 L379.69,342.13 L381.59,341.60 L383.49,341.07 L385.39,340.53 L387.29,339.99 L389.19,339.45 L391.09,338.90 L392.98,338.35 L394.88,337.79 L396.78,337.23 L398.68,336.67 L400.58,336.10 L402.48,335.52 L404.38,334.95 L406.28,334.37 L408.18,333.78 L410.08,333.19 L411.98,332.60 L413.87,332.00 L415.77,331.40 L417.67,330.79 L419.57,330.18 L421.47,329.56 L423.37,328.95 L425.27,328.32 L427.17,327.70 L429.07,327.06 L430.97,326.43 L432.87,325.79 L434.77,325.14 L436.66,324.50 L438.56,323.84 L440.46,323.19 L442.36,322.53 L444.26,321.86 L446.16,321.19 L448.06,320.52 L449.96,319.84 L451.86,319.16 L453.76,318.48 L455.66,317.79 L457.55,317.09 L459.45,316.40 L461.35,315.69 L463.25,314.99 L465.15,314.28 L467.05,313.56 L468.95,312.84 L470.85,312.12 L472.75,311.39 L474.65,310.66 L476.55,309.92 L478.45,309.19 L480.34,308.44 L482.24,307.69 L484.14,306.94 L486.04,306.18 L487.94,305.42 L489.84,304.66 L491.74,303.89 L493.64,303.12 L495.54,302.34 L497.44,301.56 L499.34,300.77 L501.23,299.98 L503.13,299.19 L505.03,298.39 L506.93,297.59 L508.83,296.78 L510.73,295.97 L512.63,295.16 L514.53,294.34 L516.43,293.51 L518.33,292.69 L520.23,291.86 L522.13,291.02 L524.02,290.18 L525.92,289.34 L527.82,288.49 L529.72,287.64 L531.62,286.78 L533.52,285.92 L535.42,285.05 L537.32,284.19 L539.22,283.31 L541.12,282.44 L543.02,281.55 L544.91,280.67 L546.81,279.78 L548.71,278.88 L550.61,277.99 L552.51,277.08 L554.41,276.18 L556.31,275.27 L558.21,274.35 L560.11,273.43 L562.01,272.51 L563.91,271.58 L565.81,270.65 L567.70,269.72 L569.60,268.78 L571.50,267.83 L573.40,266.88 L575.30,265.93 L577.20,264.98 L579.10,264.01 L581.00,263.05 L582.90,262.08 L584.80,261.11 L586.70,260.13 L588.59,259.15 L590.49,258.16 L592.39,257.17 L594.29,256.18 L596.19,255.18 L598.09,254.18 L599.99,253.17 L601.89,252.16 L603.79,251.15 L605.69,250.13 L607.59,249.10 L609.49,248.08 L611.38,247.05 L613.28,246.01 L615.18,244.97 L617.08,243.93 L618.98,242.88 L620.88,241.83 L622.78,240.77 L624.68,239.71 L626.58,238.64 L628.48,237.58 L630.38,236.50 L632.27,235.42 L634.17,234.34 L636.07,233.26 L637.97,232.17 L639.87,231.07 L641.77,229.98 L643.67,228.87 L645.57,227.77 L647.47,226.66 L649.37,225.54 L651.27,224.42 L653.17,223.30 L655.06,222.17 L656.96,221.04 L658.86,219.90 L660.76,218.76 L662.66,217.62 L664.56,216.47 L666.46,215.32 L668.36,214.16 L670.26,213.00 L672.16,211.84 L674.06,210.67 L675.95,209.50 L677.85,208.32 L679.75,207.14 L681.65,205.95 L683.55,204.76 L685.45,203.57 L687.35,202.37 L689.25,201.17 L691.15,199.96 L693.05,198.75 L694.95,197.54 L696.85,196.32 L698.74,195.09 L700.64,193.87 L702.54,192.63 L704.44,191.40 L706.34,190.16 L708.24,188.91 L710.14,187.67 L712.04,186.41 L713.94,185.16 L715.84,183.90 L717.74,182.63 L719.63,181.36 L721.53,180.09 L723.43,178.81 L725.33,177.53 L727.23,176.24 L729.13,174.95 L731.03,173.66 L732.93,172.36 L734.83,171.06 L736.73,169.75 L738.63,168.44 L740.53,167.13 L742.42,165.81 L744.32,164.49 L746.22,163.16 L748.12,161.83 L750.02,160.49 L751.92,159.15 L753.82,157.81 L755.72,156.46 L757.62,155.11 L759.52,153.75 L761.42,152.39 L763.31,151.02 L765.21,149.66 L767.11,148.28 L769.01,146.90 L770.91,145.52 L772.81,144.14 L774.71,142.75 L776.61,141.35 L778.51,139.96 L780.41,138.55 L782.31,137.15 L784.21,135.74 L786.10,134.32 L788.00,132.90 L789.90,131.48 L791.80,130.05 L793.70,128.62 L795.60,127.18 L797.50,125.74 L799.40,124.30 L801.30,122.85 L803.20,121.40 L805.10,119.94 L806.99,118.48 L808.89,117.02 L810.79,115.55 L812.69,114.07 L814.59,112.60 L816.49,111.12 L818.39,109.63 L820.29,108.14 L822.19,106.65 L824.09,105.15 L825.99,103.65 L827.89,102.14 L829.78,100.63 L831.68,99.11 L833.58,97.59 L835.48,96.07 L837.38,94.54 L839.28,93.01 L841.18,91.48 L843.08,89.94 L844.98,88.39 L846.88,86.84 L848.78,85.29 L850.67,83.73 L852.57,82.17 L854.47,80.61 L856.37,79.04 L858.27,77.47 L860.17,75.89 L862.07,74.31 L863.97,72.72 L865.87,71.13 L867.77,69.54 L869.67,67.94 L871.57,66.34 L873.46,64.73 L875.36,63.12 L877.26,61.50 L879.16,59.89 L881.06,58.26 L882.96,56.63 L884.86,55.00 L886.76,53.37 L888.66,51.73 L890.56,50.08 L892.46,48.43 L894.35,46.78 L896.25,45.13 L898.15,43.46 L900.05,41.80" stroke="#E69F00" stroke-width="6.15" stroke-dasharray="24.5 12.25 6.1 12.25"/>
</g>
<g fill="none">
<path d="M442.8,77.9 H519.8" stroke="#009E73" stroke-width="8.20"/>
<path d="M442.8,117.6 H519.8" stroke="#56B4E9" stroke-width="4.10" stroke-dasharray="16.5 8.3 4.1 8.3"/>
<path d="M442.8,157.6 H519.8" stroke="#9400D3" stroke-width="4.10" stroke-dasharray="10.7 16"/>
<path d="M442.8,197.6 H519.8" stroke="#E69F00" stroke-width="6.15" stroke-dasharray="24.6 12.3 6.1 12.3"/>
</g>
<rect x="140.40" y="41.80" width="808.80" height="445.10" stroke="#000" stroke-width="2.05" fill="none"/>
<g opacity="0.999" stroke="#000" stroke-width="0.35">
<text x="80.40" y="107.20" font-size="28.80" textLength="44.40" lengthAdjust="spacingAndGlyphs" >200</text>
<text x="80.60" y="172.90" font-size="28.80" textLength="43.50" lengthAdjust="spacingAndGlyphs" >150</text>
<text x="80.60" y="238.70" font-size="28.80" textLength="43.50" lengthAdjust="spacingAndGlyphs" >100</text>
<text x="95.60" y="304.50" font-size="28.80" textLength="28.50" lengthAdjust="spacingAndGlyphs" >50</text>
<text x="110.60" y="370.60" font-size="28.80" textLength="13.60" lengthAdjust="spacingAndGlyphs" >0</text>
<text x="86.80" y="436.10" font-size="28.80" textLength="37.40" lengthAdjust="spacingAndGlyphs" >-50</text>
<text x="137.00" y="537.60" font-size="28.80" textLength="14.10" lengthAdjust="spacingAndGlyphs" >0</text>
<text x="264.40" y="537.60" font-size="28.80" textLength="28.90" lengthAdjust="spacingAndGlyphs" >20</text>
<text x="399.80" y="537.60" font-size="28.80" textLength="28.30" lengthAdjust="spacingAndGlyphs" >40</text>
<text x="534.00" y="537.60" font-size="28.80" textLength="29.30" lengthAdjust="spacingAndGlyphs" >60</text>
<text x="669.30" y="537.60" font-size="28.80" textLength="28.40" lengthAdjust="spacingAndGlyphs" >80</text>
<text x="796.00" y="537.60" font-size="28.80" textLength="44.50" lengthAdjust="spacingAndGlyphs" >100</text>
<text x="931.00" y="537.60" font-size="28.80" textLength="43.90" lengthAdjust="spacingAndGlyphs" >120</text>
<text x="309.60" y="87.50" font-size="28.80" textLength="117.30" lengthAdjust="spacingAndGlyphs" >combined</text>
<text x="318.10" y="127.30" font-size="28.80" textLength="108.80" lengthAdjust="spacingAndGlyphs" >Coulomb</text>
<text x="181.60" y="167.90" font-size="28.80" textLength="117.60" lengthAdjust="spacingAndGlyphs" >harmonic</text>
<text x="309.10" y="167.90" font-size="28.80" textLength="55.90" lengthAdjust="spacingAndGlyphs" >from</text>
<text x="375.80" y="167.90" font-size="28.80" textLength="51.10" lengthAdjust="spacingAndGlyphs" >trap</text>
<text x="263.40" y="207.60" font-size="28.80" textLength="35.00" lengthAdjust="spacingAndGlyphs" >eff.</text>
<text x="309.50" y="207.60" font-size="28.80" textLength="117.40" lengthAdjust="spacingAndGlyphs" >harmonic</text>
<text x="244.00" y="462.30" font-size="28.80" textLength="11.20" lengthAdjust="spacingAndGlyphs" >1</text>
<text x="444.60" y="370.00" font-size="28.80" textLength="13.20" lengthAdjust="spacingAndGlyphs" >2</text>
<text x="714.30" y="238.80" font-size="28.80" textLength="13.00" lengthAdjust="spacingAndGlyphs" >3</text>
<text x="504.70" y="596.90" font-size="28.80" textLength="11.20" lengthAdjust="spacingAndGlyphs" >r</text>
<text x="525.50" y="596.90" font-size="28.80" textLength="59.60" lengthAdjust="spacingAndGlyphs" >(µm)</text>
<text transform="translate(44.1,315.4) rotate(-90)" font-size="28.80" textLength="17.5" lengthAdjust="spacingAndGlyphs">Ψ</text>
<text transform="translate(44.1,288.4) rotate(-90)" font-size="28.80" textLength="74.7" lengthAdjust="spacingAndGlyphs">(GHz)</text>
</g>
</svg></body></html>
